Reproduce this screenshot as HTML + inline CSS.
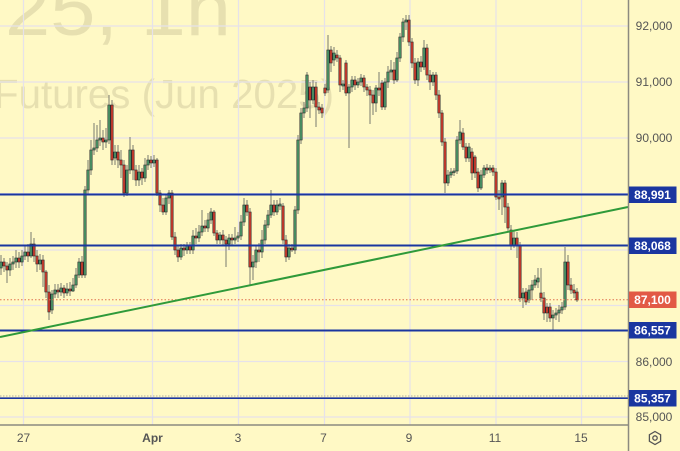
<!DOCTYPE html>
<html><head><meta charset="utf-8"><style>
html,body{margin:0;padding:0;background:#fff9c5;}
svg{display:block;}
</style></head><body>
<svg width="680" height="451" viewBox="0 0 680 451" xmlns="http://www.w3.org/2000/svg" font-family="Liberation Sans, sans-serif">
<rect x="0" y="0" width="680" height="451" fill="#fff9c5"/>
<!-- watermark -->
<text x="5" y="35" font-size="76" fill="#e7e0b0" textLength="226" lengthAdjust="spacingAndGlyphs">25, 1h</text>
<text x="-6" y="108" font-size="41" fill="#e7e0b0" textLength="340" lengthAdjust="spacingAndGlyphs">Futures (Jun 2025)</text>
<!-- grid -->
<g stroke="#e6e2ea" stroke-width="1.2">
<line x1="0" y1="26" x2="628" y2="26"/>
<line x1="0" y1="82" x2="628" y2="82"/>
<line x1="0" y1="138" x2="628" y2="138"/>
<line x1="0" y1="193.6" x2="628" y2="193.6"/>
<line x1="0" y1="250" x2="628" y2="250"/>
<line x1="0" y1="305.5" x2="628" y2="305.5"/>
<line x1="0" y1="361.5" x2="628" y2="361.5"/>
<line x1="0" y1="417" x2="628" y2="417"/>
<line x1="23.5" y1="0" x2="23.5" y2="425"/>
<line x1="152.5" y1="0" x2="152.5" y2="425"/>
<line x1="238.5" y1="0" x2="238.5" y2="425"/>
<line x1="324.5" y1="0" x2="324.5" y2="425"/>
<line x1="410" y1="0" x2="410" y2="425"/>
<line x1="496" y1="0" x2="496" y2="425"/>
<line x1="581.5" y1="0" x2="581.5" y2="425"/>
</g>
<line x1="0" y1="396" x2="628" y2="396" stroke="#b0aca0" stroke-width="1" stroke-dasharray="1.5 1.5"/>
<!-- candles -->
<g id="candles" stroke-width="0.6">
<!-- wicks drawn per candle -->
<g stroke="#7a7a70" stroke-width="1">
<line x1="1" y1="255" x2="1" y2="275"/><line x1="4" y1="258" x2="4" y2="272"/><line x1="7" y1="262" x2="7" y2="283"/><line x1="10" y1="258" x2="10" y2="276"/><line x1="13" y1="256" x2="13" y2="270"/><line x1="16" y1="250" x2="16" y2="268"/><line x1="19" y1="252" x2="19" y2="268"/><line x1="22" y1="250" x2="22" y2="266"/><line x1="25" y1="246" x2="25" y2="260"/><line x1="28" y1="244" x2="28" y2="262"/><line x1="31" y1="232" x2="31" y2="258"/><line x1="34" y1="238" x2="34" y2="262"/><line x1="37" y1="250" x2="37" y2="272"/><line x1="40" y1="254" x2="40" y2="270"/><line x1="43" y1="255" x2="43" y2="287"/><line x1="46" y1="270" x2="46" y2="298"/><line x1="49" y1="285" x2="49" y2="320"/><line x1="52" y1="290" x2="52" y2="314"/><line x1="55" y1="284" x2="55" y2="298"/><line x1="58" y1="284" x2="58" y2="298"/><line x1="61" y1="283" x2="61" y2="296"/><line x1="64" y1="285" x2="64" y2="298"/><line x1="67" y1="283" x2="67" y2="296"/><line x1="70" y1="282" x2="70" y2="296"/><line x1="73" y1="278" x2="73" y2="292"/><line x1="76" y1="268" x2="76" y2="288"/><line x1="79" y1="258" x2="79" y2="278"/><line x1="82" y1="256" x2="82" y2="278"/><line x1="85" y1="186" x2="85" y2="278"/><line x1="88" y1="160" x2="88" y2="195"/><line x1="91" y1="140" x2="91" y2="175"/><line x1="94" y1="123" x2="94" y2="155"/><line x1="97" y1="125" x2="97" y2="152"/><line x1="100" y1="120" x2="100" y2="146"/><line x1="103" y1="130" x2="103" y2="150"/><line x1="106" y1="128" x2="106" y2="148"/><line x1="109" y1="95" x2="109" y2="144"/><line x1="112" y1="100" x2="112" y2="165"/><line x1="115" y1="145" x2="115" y2="165"/><line x1="118" y1="145" x2="118" y2="168"/><line x1="121" y1="150" x2="121" y2="178"/><line x1="124" y1="160" x2="124" y2="197"/><line x1="127" y1="165" x2="127" y2="196"/><line x1="130" y1="137" x2="130" y2="174"/><line x1="133" y1="145" x2="133" y2="180"/><line x1="136" y1="165" x2="136" y2="186"/><line x1="139" y1="165" x2="139" y2="186"/><line x1="142" y1="168" x2="142" y2="185"/><line x1="145" y1="158" x2="145" y2="182"/><line x1="148" y1="155" x2="148" y2="170"/><line x1="151" y1="156" x2="151" y2="168"/><line x1="154" y1="155" x2="154" y2="167"/><line x1="157" y1="158" x2="157" y2="196"/><line x1="160" y1="190" x2="160" y2="212"/><line x1="163" y1="198" x2="163" y2="215"/><line x1="166" y1="194" x2="166" y2="215"/><line x1="169" y1="190" x2="169" y2="204"/><line x1="172" y1="190" x2="172" y2="240"/><line x1="175" y1="232" x2="175" y2="255"/><line x1="178" y1="245" x2="178" y2="262"/><line x1="181" y1="244" x2="181" y2="260"/><line x1="184" y1="244" x2="184" y2="256"/><line x1="187" y1="242" x2="187" y2="254"/><line x1="190" y1="242" x2="190" y2="254"/><line x1="193" y1="230" x2="193" y2="254"/><line x1="196" y1="228" x2="196" y2="244"/><line x1="199" y1="225" x2="199" y2="242"/><line x1="202" y1="210" x2="202" y2="236"/><line x1="205" y1="220" x2="205" y2="232"/><line x1="208" y1="213" x2="208" y2="232"/><line x1="211" y1="208" x2="211" y2="224"/><line x1="214" y1="210" x2="214" y2="236"/><line x1="217" y1="230" x2="217" y2="244"/><line x1="220" y1="232" x2="220" y2="244"/><line x1="223" y1="230" x2="223" y2="246"/><line x1="226" y1="236" x2="226" y2="267"/><line x1="229" y1="234" x2="229" y2="250"/><line x1="232" y1="234" x2="232" y2="246"/><line x1="235" y1="227" x2="235" y2="244"/><line x1="238" y1="232" x2="238" y2="242"/><line x1="241" y1="215" x2="241" y2="240"/><line x1="244" y1="198" x2="244" y2="226"/><line x1="247" y1="200" x2="247" y2="216"/><line x1="250" y1="208" x2="250" y2="285"/><line x1="253" y1="255" x2="253" y2="280"/><line x1="256" y1="245" x2="256" y2="268"/><line x1="259" y1="243" x2="259" y2="262"/><line x1="262" y1="230" x2="262" y2="258"/><line x1="265" y1="220" x2="265" y2="244"/><line x1="268" y1="210" x2="268" y2="228"/><line x1="271" y1="190" x2="271" y2="218"/><line x1="274" y1="200" x2="274" y2="216"/><line x1="277" y1="200" x2="277" y2="215"/><line x1="280" y1="198" x2="280" y2="210"/><line x1="283" y1="203" x2="283" y2="244"/><line x1="286" y1="235" x2="286" y2="262"/><line x1="289" y1="244" x2="289" y2="260"/><line x1="292" y1="244" x2="292" y2="252"/><line x1="295" y1="206" x2="295" y2="254"/><line x1="298" y1="135" x2="298" y2="214"/><line x1="301" y1="108" x2="301" y2="144"/><line x1="304" y1="102" x2="304" y2="118"/><line x1="307" y1="72" x2="307" y2="112"/><line x1="310" y1="82" x2="310" y2="118"/><line x1="313" y1="80" x2="313" y2="104"/><line x1="316" y1="82" x2="316" y2="127"/><line x1="319" y1="102" x2="319" y2="114"/><line x1="322" y1="104" x2="322" y2="118"/><line x1="325" y1="84" x2="325" y2="96"/><line x1="328" y1="35" x2="328" y2="93"/><line x1="331" y1="46" x2="331" y2="72"/><line x1="334" y1="47" x2="334" y2="66"/><line x1="337" y1="50" x2="337" y2="62"/><line x1="340" y1="55" x2="340" y2="92"/><line x1="343" y1="80" x2="343" y2="90"/><line x1="346" y1="60" x2="346" y2="96"/><line x1="349" y1="84" x2="349" y2="148"/><line x1="352" y1="76" x2="352" y2="92"/><line x1="355" y1="76" x2="355" y2="90"/><line x1="358" y1="78" x2="358" y2="88"/><line x1="361" y1="74" x2="361" y2="86"/><line x1="364" y1="75" x2="364" y2="92"/><line x1="367" y1="84" x2="367" y2="96"/><line x1="370" y1="86" x2="370" y2="124"/><line x1="373" y1="90" x2="373" y2="115"/><line x1="376" y1="85" x2="376" y2="112"/><line x1="379" y1="72" x2="379" y2="96"/><line x1="382" y1="80" x2="382" y2="110"/><line x1="385" y1="78" x2="385" y2="110"/><line x1="388" y1="66" x2="388" y2="88"/><line x1="391" y1="60" x2="391" y2="80"/><line x1="394" y1="62" x2="394" y2="84"/><line x1="397" y1="52" x2="397" y2="82"/><line x1="400" y1="33" x2="400" y2="62"/><line x1="403" y1="18" x2="403" y2="42"/><line x1="406" y1="15" x2="406" y2="30"/><line x1="409" y1="15" x2="409" y2="46"/><line x1="412" y1="38" x2="412" y2="68"/><line x1="415" y1="58" x2="415" y2="84"/><line x1="418" y1="58" x2="418" y2="86"/><line x1="421" y1="56" x2="421" y2="72"/><line x1="424" y1="40" x2="424" y2="70"/><line x1="427" y1="44" x2="427" y2="80"/><line x1="430" y1="70" x2="430" y2="90"/><line x1="433" y1="72" x2="433" y2="86"/><line x1="436" y1="72" x2="436" y2="100"/><line x1="439" y1="90" x2="439" y2="118"/><line x1="442" y1="110" x2="442" y2="146"/><line x1="445" y1="138" x2="445" y2="193"/><line x1="448" y1="170" x2="448" y2="186"/><line x1="451" y1="168" x2="451" y2="178"/><line x1="454" y1="168" x2="454" y2="176"/><line x1="457" y1="136" x2="457" y2="174"/><line x1="460" y1="120" x2="460" y2="144"/><line x1="463" y1="128" x2="463" y2="150"/><line x1="466" y1="143" x2="466" y2="162"/><line x1="469" y1="143" x2="469" y2="162"/><line x1="472" y1="148" x2="472" y2="180"/><line x1="475" y1="155" x2="475" y2="178"/><line x1="478" y1="168" x2="478" y2="192"/><line x1="481" y1="170" x2="481" y2="190"/><line x1="484" y1="165" x2="484" y2="178"/><line x1="487" y1="164" x2="487" y2="174"/><line x1="490" y1="165" x2="490" y2="173"/><line x1="493" y1="165" x2="493" y2="176"/><line x1="496" y1="168" x2="496" y2="200"/><line x1="499" y1="190" x2="499" y2="210"/><line x1="502" y1="180" x2="502" y2="215"/><line x1="505" y1="180" x2="505" y2="223"/><line x1="508" y1="203" x2="508" y2="232"/><line x1="511" y1="225" x2="511" y2="250"/><line x1="514" y1="230" x2="514" y2="248"/><line x1="517" y1="232" x2="517" y2="258"/><line x1="520" y1="242" x2="520" y2="302"/><line x1="523" y1="288" x2="523" y2="308"/><line x1="526" y1="288" x2="526" y2="305"/><line x1="529" y1="285" x2="529" y2="303"/><line x1="532" y1="280" x2="532" y2="300"/><line x1="535" y1="275" x2="535" y2="288"/><line x1="538" y1="268" x2="538" y2="288"/><line x1="541" y1="268" x2="541" y2="302"/><line x1="544" y1="292" x2="544" y2="320"/><line x1="547" y1="303" x2="547" y2="322"/><line x1="550" y1="303" x2="550" y2="322"/><line x1="553" y1="310" x2="553" y2="330"/><line x1="556" y1="308" x2="556" y2="320"/><line x1="559" y1="305" x2="559" y2="322"/><line x1="562" y1="302" x2="562" y2="314"/><line x1="565" y1="247" x2="565" y2="310"/><line x1="568" y1="255" x2="568" y2="290"/><line x1="571" y1="278" x2="571" y2="294"/><line x1="574" y1="284" x2="574" y2="298"/><line x1="577" y1="288" x2="577" y2="302"/>
</g>
<g stroke="#2d2d2d">
<g fill="#4a9566">
<rect x="-0.2" y="262" width="2.4" height="6"/><rect x="8.8" y="264" width="2.4" height="6"/><rect x="11.8" y="262" width="2.4" height="2"/><rect x="14.8" y="258" width="2.4" height="4"/><rect x="20.8" y="256" width="2.4" height="6"/><rect x="23.8" y="252" width="2.4" height="4"/><rect x="29.8" y="244" width="2.4" height="12"/><rect x="38.8" y="260" width="2.4" height="4"/><rect x="50.8" y="294" width="2.4" height="16"/><rect x="53.8" y="290" width="2.4" height="4"/><rect x="59.8" y="288" width="2.4" height="4"/><rect x="65.8" y="289" width="2.4" height="4"/><rect x="71.8" y="285" width="2.4" height="6"/><rect x="74.8" y="275" width="2.4" height="10"/><rect x="77.8" y="262" width="2.4" height="13"/><rect x="83.8" y="190" width="2.4" height="85"/><rect x="86.8" y="170" width="2.4" height="20"/><rect x="89.8" y="150" width="2.4" height="20"/><rect x="92.8" y="148" width="2.4" height="2"/><rect x="95.8" y="140" width="2.4" height="8"/><rect x="98.8" y="138" width="2.4" height="2"/><rect x="104.8" y="140" width="2.4" height="2"/><rect x="107.8" y="105" width="2.4" height="35"/><rect x="113.8" y="152" width="2.4" height="6"/><rect x="125.8" y="170" width="2.4" height="23"/><rect x="128.8" y="150" width="2.4" height="20"/><rect x="137.8" y="172" width="2.4" height="8"/><rect x="143.8" y="165" width="2.4" height="13"/><rect x="146.8" y="160" width="2.4" height="5"/><rect x="152.8" y="160" width="2.4" height="3"/><rect x="164.8" y="198" width="2.4" height="14"/><rect x="167.8" y="193" width="2.4" height="5"/><rect x="179.8" y="248" width="2.4" height="9"/><rect x="185.8" y="246" width="2.4" height="4"/><rect x="191.8" y="236" width="2.4" height="14"/><rect x="197.8" y="232" width="2.4" height="6"/><rect x="200.8" y="226" width="2.4" height="6"/><rect x="206.8" y="220" width="2.4" height="8"/><rect x="209.8" y="212" width="2.4" height="8"/><rect x="218.8" y="235" width="2.4" height="5"/><rect x="227.8" y="238" width="2.4" height="6"/><rect x="233.8" y="238" width="2.4" height="2"/><rect x="236.8" y="236" width="2.4" height="2"/><rect x="239.8" y="222" width="2.4" height="14"/><rect x="242.8" y="205" width="2.4" height="17"/><rect x="251.8" y="262" width="2.4" height="5"/><rect x="254.8" y="250" width="2.4" height="12"/><rect x="260.8" y="240" width="2.4" height="12"/><rect x="263.8" y="225" width="2.4" height="15"/><rect x="266.8" y="215" width="2.4" height="10"/><rect x="269.8" y="205" width="2.4" height="10"/><rect x="275.8" y="205" width="2.4" height="7"/><rect x="278.8" y="204" width="2.4" height="2"/><rect x="287.8" y="248" width="2.4" height="9"/><rect x="293.8" y="210" width="2.4" height="40"/><rect x="296.8" y="140" width="2.4" height="70"/><rect x="299.8" y="113" width="2.4" height="27"/><rect x="302.8" y="108" width="2.4" height="5"/><rect x="305.8" y="75" width="2.4" height="33"/><rect x="311.8" y="87" width="2.4" height="13"/><rect x="326.8" y="50" width="2.4" height="40"/><rect x="332.8" y="53" width="2.4" height="7"/><rect x="341.8" y="84" width="2.4" height="2"/><rect x="347.8" y="87" width="2.4" height="6"/><rect x="350.8" y="80" width="2.4" height="7"/><rect x="356.8" y="82" width="2.4" height="3"/><rect x="359.8" y="78" width="2.4" height="4"/><rect x="374.8" y="88" width="2.4" height="15"/><rect x="383.8" y="82" width="2.4" height="25"/><rect x="386.8" y="72" width="2.4" height="10"/><rect x="389.8" y="70" width="2.4" height="2"/><rect x="395.8" y="58" width="2.4" height="22"/><rect x="398.8" y="37" width="2.4" height="21"/><rect x="401.8" y="22" width="2.4" height="15"/><rect x="404.8" y="20" width="2.4" height="2"/><rect x="416.8" y="62" width="2.4" height="18"/><rect x="422.8" y="48" width="2.4" height="19"/><rect x="431.8" y="75" width="2.4" height="7"/><rect x="446.8" y="175" width="2.4" height="8"/><rect x="449.8" y="172" width="2.4" height="3"/><rect x="452.8" y="171" width="2.4" height="1.5"/><rect x="455.8" y="140" width="2.4" height="31"/><rect x="458.8" y="132" width="2.4" height="8"/><rect x="467.8" y="147" width="2.4" height="11"/><rect x="479.8" y="175" width="2.4" height="13"/><rect x="482.8" y="168" width="2.4" height="7"/><rect x="488.8" y="168" width="2.4" height="2"/><rect x="500.8" y="183" width="2.4" height="14"/><rect x="512.8" y="238" width="2.4" height="7"/><rect x="521.8" y="293" width="2.4" height="5"/><rect x="527.8" y="290" width="2.4" height="10"/><rect x="530.8" y="285" width="2.4" height="5"/><rect x="533.8" y="280" width="2.4" height="5"/><rect x="536.8" y="278" width="2.4" height="4"/><rect x="551.8" y="315" width="2.4" height="3"/><rect x="554.8" y="313" width="2.4" height="2"/><rect x="557.8" y="310" width="2.4" height="3"/><rect x="560.8" y="307" width="2.4" height="3"/><rect x="563.8" y="262" width="2.4" height="45"/>
</g>
<g fill="#c8392b">
<rect x="2.8" y="262" width="2.4" height="4"/><rect x="5.8" y="266" width="2.4" height="4"/><rect x="17.8" y="258" width="2.4" height="4"/><rect x="26.8" y="252" width="2.4" height="4"/><rect x="32.8" y="244" width="2.4" height="12"/><rect x="35.8" y="256" width="2.4" height="8"/><rect x="41.8" y="260" width="2.4" height="12"/><rect x="44.8" y="272" width="2.4" height="20"/><rect x="47.8" y="292" width="2.4" height="20"/><rect x="56.8" y="290" width="2.4" height="2"/><rect x="62.8" y="288" width="2.4" height="5"/><rect x="68.8" y="289" width="2.4" height="2"/><rect x="80.8" y="262" width="2.4" height="13"/><rect x="101.8" y="138" width="2.4" height="4"/><rect x="110.8" y="105" width="2.4" height="55"/><rect x="116.8" y="152" width="2.4" height="8"/><rect x="119.8" y="160" width="2.4" height="5"/><rect x="122.8" y="165" width="2.4" height="28"/><rect x="131.8" y="150" width="2.4" height="20"/><rect x="134.8" y="170" width="2.4" height="10"/><rect x="140.8" y="172" width="2.4" height="6"/><rect x="149.8" y="160" width="2.4" height="3"/><rect x="155.8" y="160" width="2.4" height="33"/><rect x="158.8" y="193" width="2.4" height="12"/><rect x="161.8" y="205" width="2.4" height="7"/><rect x="170.8" y="193" width="2.4" height="44"/><rect x="173.8" y="237" width="2.4" height="13"/><rect x="176.8" y="250" width="2.4" height="7"/><rect x="182.8" y="248" width="2.4" height="2"/><rect x="188.8" y="246" width="2.4" height="4"/><rect x="194.8" y="236" width="2.4" height="2"/><rect x="203.8" y="226" width="2.4" height="2"/><rect x="212.8" y="212" width="2.4" height="21"/><rect x="215.8" y="233" width="2.4" height="7"/><rect x="221.8" y="235" width="2.4" height="5"/><rect x="224.8" y="240" width="2.4" height="4"/><rect x="230.8" y="238" width="2.4" height="2"/><rect x="245.8" y="205" width="2.4" height="7"/><rect x="248.8" y="212" width="2.4" height="55"/><rect x="257.8" y="250" width="2.4" height="2"/><rect x="272.8" y="205" width="2.4" height="7"/><rect x="281.8" y="206" width="2.4" height="34"/><rect x="284.8" y="240" width="2.4" height="17"/><rect x="290.8" y="248" width="2.4" height="2"/><rect x="308.8" y="87" width="2.4" height="13"/><rect x="314.8" y="87" width="2.4" height="20"/><rect x="317.8" y="107" width="2.4" height="3"/><rect x="320.8" y="108" width="2.4" height="5"/><rect x="323.8" y="88" width="2.4" height="5"/><rect x="329.8" y="50" width="2.4" height="13"/><rect x="335.8" y="55" width="2.4" height="3"/><rect x="338.8" y="58" width="2.4" height="27"/><rect x="344.8" y="63" width="2.4" height="30"/><rect x="353.8" y="80" width="2.4" height="5"/><rect x="362.8" y="78" width="2.4" height="9"/><rect x="365.8" y="87" width="2.4" height="3"/><rect x="368.8" y="90" width="2.4" height="5"/><rect x="371.8" y="95" width="2.4" height="8"/><rect x="377.8" y="88" width="2.4" height="2"/><rect x="380.8" y="83" width="2.4" height="24"/><rect x="392.8" y="70" width="2.4" height="10"/><rect x="407.8" y="20" width="2.4" height="22"/><rect x="410.8" y="42" width="2.4" height="21"/><rect x="413.8" y="63" width="2.4" height="17"/><rect x="419.8" y="62" width="2.4" height="5"/><rect x="425.8" y="48" width="2.4" height="27"/><rect x="428.8" y="75" width="2.4" height="7"/><rect x="434.8" y="75" width="2.4" height="20"/><rect x="437.8" y="95" width="2.4" height="18"/><rect x="440.8" y="113" width="2.4" height="29"/><rect x="443.8" y="142" width="2.4" height="41"/><rect x="461.8" y="133" width="2.4" height="14"/><rect x="464.8" y="147" width="2.4" height="11"/><rect x="470.8" y="152" width="2.4" height="21"/><rect x="473.8" y="157" width="2.4" height="16"/><rect x="476.8" y="172" width="2.4" height="16"/><rect x="485.8" y="168" width="2.4" height="2"/><rect x="491.8" y="168" width="2.4" height="4"/><rect x="494.8" y="172" width="2.4" height="25"/><rect x="497.8" y="197" width="2.4" height="2"/><rect x="503.8" y="183" width="2.4" height="24"/><rect x="506.8" y="207" width="2.4" height="21"/><rect x="509.8" y="230" width="2.4" height="15"/><rect x="515.8" y="238" width="2.4" height="7"/><rect x="518.8" y="245" width="2.4" height="53"/><rect x="524.8" y="292" width="2.4" height="10"/><rect x="539.8" y="293" width="2.4" height="5"/><rect x="542.8" y="298" width="2.4" height="15"/><rect x="545.8" y="307" width="2.4" height="6"/><rect x="548.8" y="307" width="2.4" height="11"/><rect x="566.8" y="262" width="2.4" height="23"/><rect x="569.8" y="285" width="2.4" height="5"/><rect x="572.8" y="290" width="2.4" height="3"/><rect x="575.8" y="292" width="2.4" height="8"/>
</g>
</g>
</g>
<!-- current price dotted -->
<line x1="0" y1="299.7" x2="628" y2="299.7" stroke="#e0704f" stroke-width="1" stroke-dasharray="1.5 2"/>
<!-- horizontal levels -->
<g stroke="#1a36a0">
<line x1="0" y1="194.5" x2="628" y2="194.5" stroke-width="2"/>
<line x1="0" y1="245.5" x2="628" y2="245.5" stroke-width="2"/>
<line x1="0" y1="330.5" x2="628" y2="330.5" stroke-width="2"/>
<line x1="0" y1="398.2" x2="628" y2="398.2" stroke-width="1.6"/>
</g>
<!-- trendline -->
<line x1="0" y1="337" x2="628" y2="207" stroke="#2f9a3a" stroke-width="2"/>
<!-- axes -->
<line x1="628.5" y1="0" x2="628.5" y2="451" stroke="#8c8a80" stroke-width="1.5"/>
<line x1="0" y1="425" x2="628" y2="425" stroke="#8c8a80" stroke-width="1.5"/>
<!-- price labels -->
<g font-size="12" fill="#555" text-anchor="middle">
<text x="654" y="30">92,000</text>
<text x="654" y="86">91,000</text>
<text x="654" y="142">90,000</text>
<text x="654" y="366">86,000</text>
<text x="654" y="421">85,000</text>
</g>
<g>
<rect x="629" y="186.5" width="47.5" height="16.5" fill="#1a36a0"/>
<rect x="629" y="237.5" width="47.5" height="16.5" fill="#1a36a0"/>
<rect x="629" y="291.5" width="47.5" height="16.5" fill="#e25a45"/>
<rect x="629" y="322" width="47.5" height="16.5" fill="#1a36a0"/>
<rect x="629" y="390" width="47.5" height="16.5" fill="#1a36a0"/>
</g>
<g font-size="12" font-weight="bold" fill="#ffffff" text-anchor="middle">
<text x="652.5" y="199">88,991</text>
<text x="652.5" y="250">88,068</text>
<text x="652.5" y="304">87,100</text>
<text x="652.5" y="334.5">86,557</text>
<text x="652.5" y="402.5">85,357</text>
</g>
<!-- time labels -->
<g font-size="12" fill="#555" text-anchor="middle">
<text x="23.5" y="442">27</text>
<text x="152.5" y="442" font-weight="bold">Apr</text>
<text x="238" y="442">3</text>
<text x="323.5" y="442">7</text>
<text x="409" y="442">9</text>
<text x="495" y="442">11</text>
<text x="581" y="442">15</text>
</g>
<!-- settings icon -->
<polygon points="655,431.5 660.6,434.75 660.6,441.25 655,444.5 649.4,441.25 649.4,434.75" fill="none" stroke="#555" stroke-width="1.3"/>
<circle cx="655" cy="438" r="2.2" fill="none" stroke="#555" stroke-width="1.3"/>
</svg>
</body></html>
